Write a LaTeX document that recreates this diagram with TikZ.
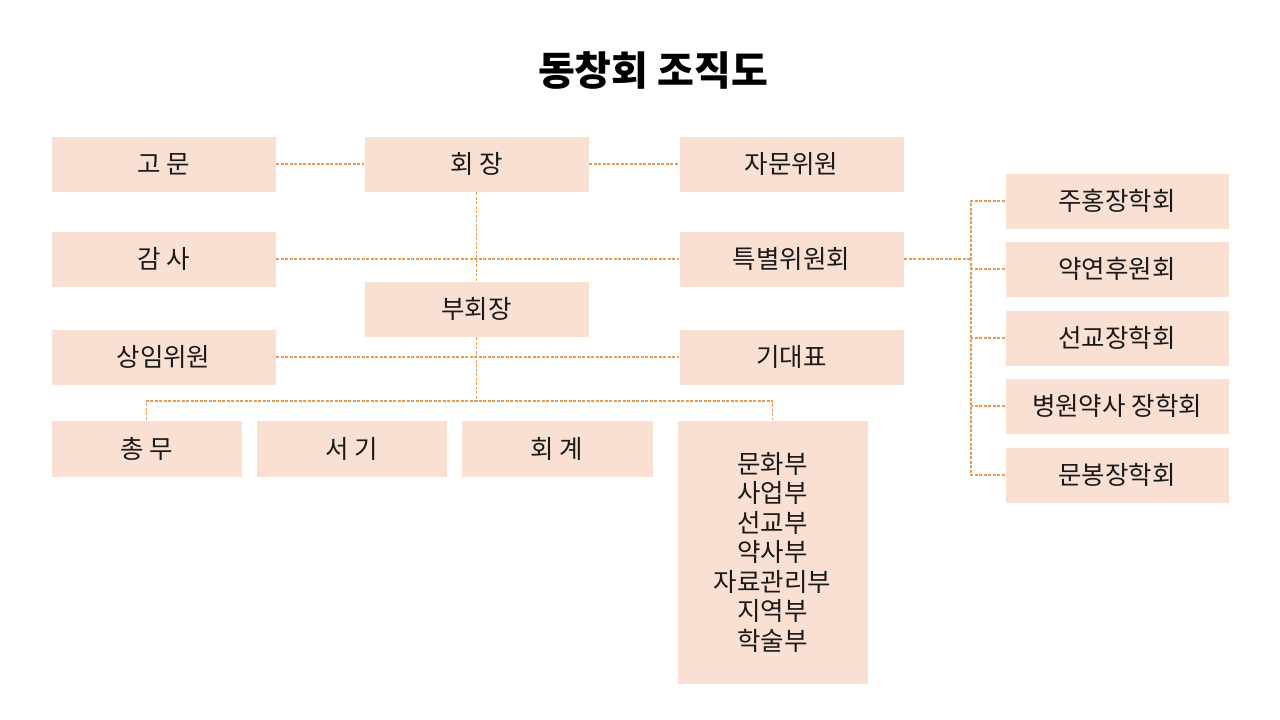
\documentclass[tikz,border=0pt]{standalone}
\usepackage{fontspec}
\newfontfamily\kr{Noto Sans CJK KR}
\definecolor{boxfill}{HTML}{FADFD3}
\definecolor{linec}{HTML}{E99A52}
\definecolor{textc}{HTML}{1A1A1A}
\tikzset{
  box/.style={fill=boxfill, draw=white, line width=0.6pt, minimum width=225, minimum height=56, inner sep=0pt, text=textc, font=\kr\fontsize{25.5}{29.5}\selectfont, align=center},
  conn/.style={draw=linec, line width=1.1pt, dash pattern=on 3pt off 1.5pt},
}
\begin{document}
\begin{tikzpicture}[x=1pt,y=-1pt]
\useasboundingbox[fill=white] (0,0) rectangle (1280,720);
\node[font=\kr\bfseries\fontsize{40}{48}\selectfont, text=black] (title) at (653,71) {동창회 조직도};

\node[box] (gomun) at (163.5,164) {고 문};
\node[box] (hoejang) at (476.5,164) {회 장};
\node[box] (jamun) at (791.5,164) {자문위원};
\node[box] (gamsa) at (163.5,259) {감 사};
\node[box] (teuk) at (791.5,259) {특별위원회};
\node[box] (buhoe) at (476.5,309) {부회장};
\node[box] (sangim) at (163.5,357) {상임위원};
\node[box] (gidae) at (791.5,357) {기대표};

\node[box, minimum width=191, minimum height=57] (chongmu) at (146.5,448.5) {총 무};
\node[box, minimum width=191, minimum height=57] (seogi) at (351.5,448.5) {서 기};
\node[box, minimum width=192, minimum height=57] (hoegye) at (557,448.5) {회 계};
\node[box, minimum width=191, minimum height=264] (bu) at (772.5,552) {문화부\\사업부\\선교부\\약사부\\자료관리부\\지역부\\학술부};

\node[box, minimum width=224] (r1) at (1117,201) {주홍장학회};
\node[box, minimum width=224] (r2) at (1117,269) {약연후원회};
\node[box, minimum width=224] (r3) at (1117,338) {선교장학회};
\node[box, minimum width=224] (r4) at (1117,406) {병원약사 장학회};
\node[box, minimum width=224] (r5) at (1117,475) {문봉장학회};

\draw[conn] (gomun.east) -- (hoejang.west);
\draw[conn] (hoejang.east) -- (jamun.west);
\draw[conn] (hoejang.south) -- (buhoe.north);
\draw[conn] (gamsa.east) -- (teuk.west);
\draw[conn] (sangim.east) -- (gidae.west);
\coordinate (j1) at (476.5,401);
\draw[conn] (buhoe.south) -- (j1);
\draw[conn] (chongmu.north) |- (j1) -| (bu.north);

\coordinate (rb) at (971,259);
\draw[conn] (teuk.east) -- (rb);
\draw[conn] (r1.west) -| (rb);
\draw[conn] (r5.west) -| (rb);
\draw[conn] (r2.west) -- (r2.west -| rb);
\draw[conn] (r3.west) -- (r3.west -| rb);
\draw[conn] (r4.west) -- (r4.west -| rb);
\end{tikzpicture}
\end{document}
